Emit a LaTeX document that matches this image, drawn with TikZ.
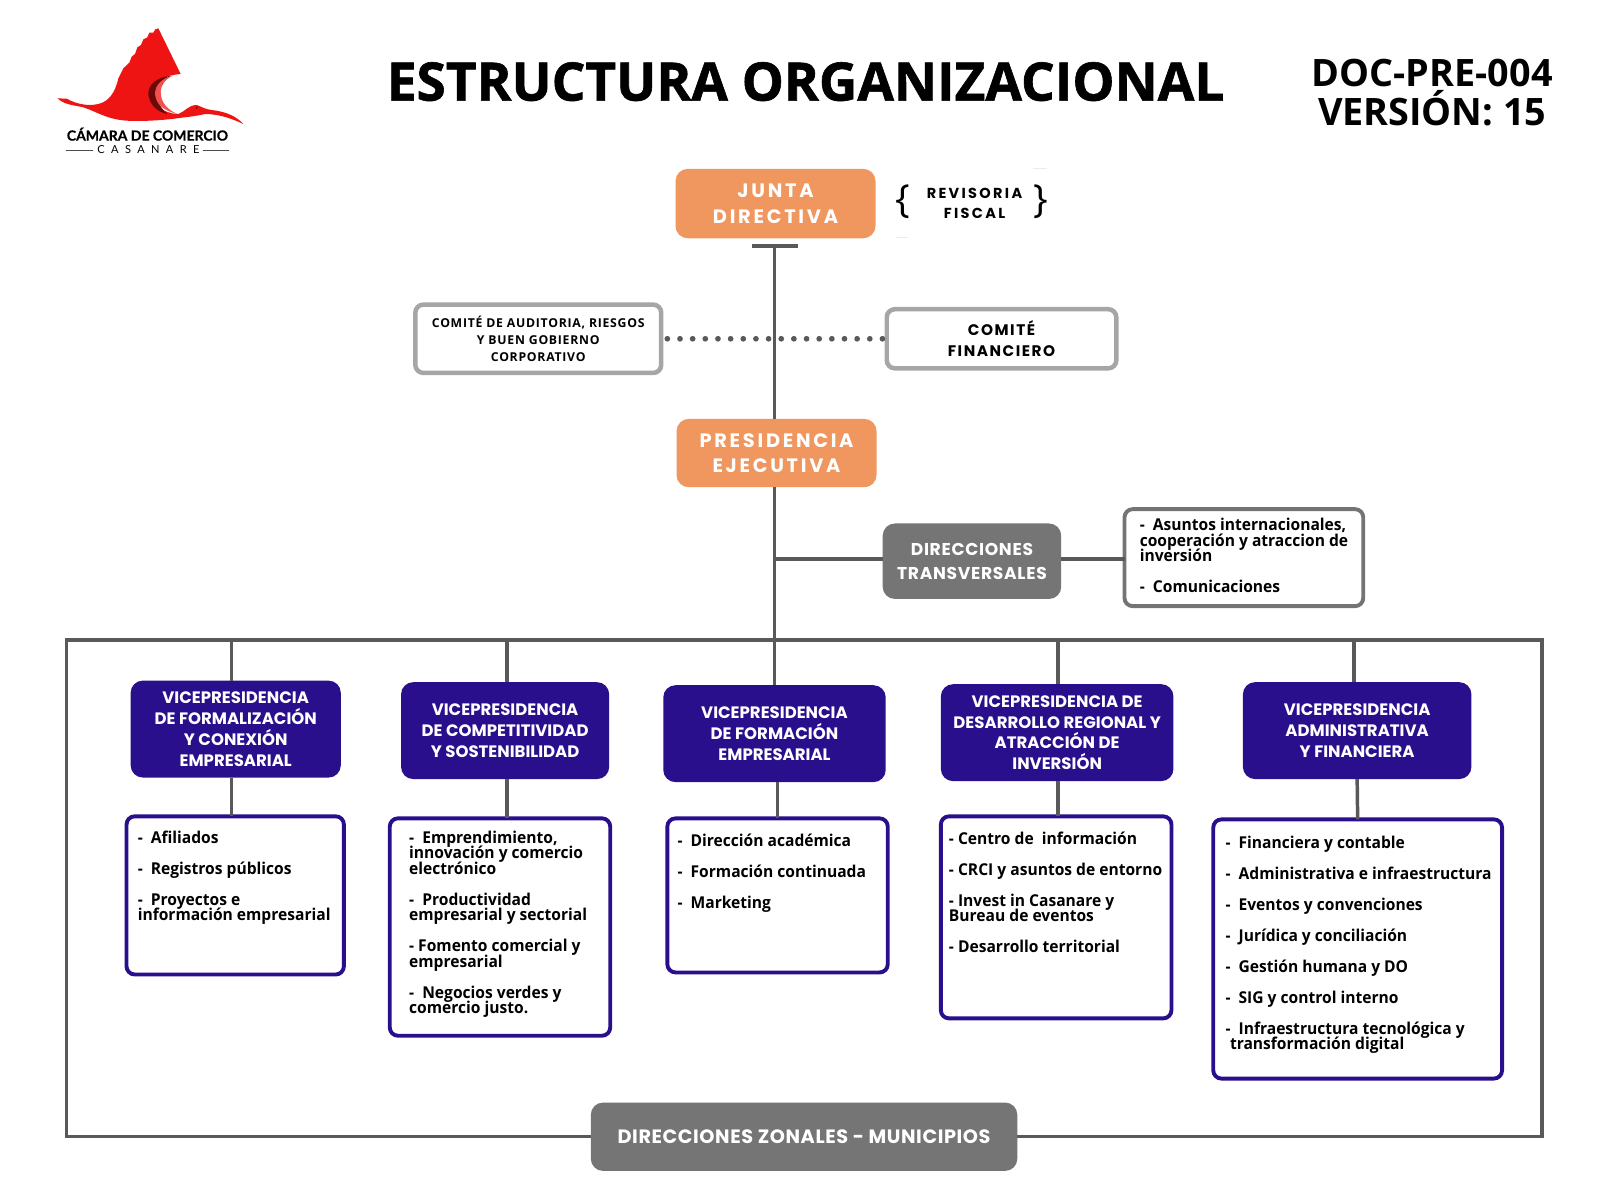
\documentclass[tikz,border=0pt]{standalone}
\usepackage{fontspec}
\setmainfont{Open Sans}
\newfontfamily\popfont{Poppins}
\newfontfamily\latofont{Lato}
\definecolor{naranja}{HTML}{F0965F}
\definecolor{morado}{HTML}{290F8C}
\definecolor{grisbox}{HTML}{757575}
\definecolor{gristrazo}{HTML}{595959}
\definecolor{grisclaro}{HTML}{A6A6A6}
\definecolor{rojo}{HTML}{EE1414}
\lineskiplimit=-100pt
\normallineskiplimit=-100pt

\begin{document}
\begin{tikzpicture}[x=0.5pt,y=-0.5pt]
	\tikzstyle{every node}+=[inner sep=0pt,outer sep=0pt,align=center]
	\tikzstyle{wh}=[minimum width=#1*0.5pt]
	\tikzstyle{ht}=[minimum height=#1*0.5pt]
	\tikzstyle{linea}=[draw=gristrazo,line width=1.7pt]
	\tikzstyle{naranjabox}=[fill=naranja,rounded corners=6pt,text=white,font=\popfont\bfseries\fontsize{9.5}{12.5}\selectfont\addfontfeature{LetterSpace=14}]
	\tikzstyle{grisbase}=[fill=grisbox,rounded corners=6pt,text=white,font=\popfont\bfseries\fontsize{8.4}{11.5}\selectfont\addfontfeature{LetterSpace=4}]
	\tikzstyle{comitebox}=[draw=grisclaro,line width=2.2pt,fill=white,rounded corners=4pt,text=black]
	\tikzstyle{vicebox}=[fill=morado,rounded corners=6pt,text=white,font=\popfont\bfseries\fontsize{8.1}{10.25}\selectfont]
	\tikzstyle{listabox}=[draw=morado,line width=1.9pt,fill=white,rounded corners=4pt]
	\tikzstyle{listagris}=[draw=grisclaro!70!black,line width=1.9pt,fill=white,rounded corners=4pt]
	\tikzstyle{listatxt}=[anchor=north west,align=left,text=black,font=\bfseries\fontsize{8}{7.6}\selectfont\addfontfeature{FakeStretch=0.955}]
	\useasboundingbox (0,0) rectangle (1568,1176);

	% logo
	\begin{scope}[shift={(39.2,9.8)},scale=0.3267]
		\fill [rojo] (52,265) -- (80,266) .. controls (105,280) and (140,290) .. (175,282) .. controls (205,275) and (225,250) .. (235,205) -- (250,175) -- (268,158) -- (275,140) -- (285,132) -- (292,112) -- (303,105) -- (310,88) -- (322,82) -- (328,68) -- (340,68) -- (346,58) -- (355,55) -- (422,192) .. controls (385,195) and (350,205) .. (335,235) .. controls (320,275) and (370,312) .. (415,312) .. controls (435,305) and (445,285) .. (470,285) .. controls (485,290) and (495,298) .. (515,300) .. controls (560,305) and (590,320) .. (610,342) .. controls (580,328) and (540,312) .. (495,312) .. controls (470,318) and (450,320) .. (425,323) .. controls (380,330) and (310,335) .. (260,332) .. controls (200,328) and (170,305) .. (130,292) .. controls (100,285) and (75,285) .. (52,265) -- cycle;
		\fill [rojo!45!black] (398,197) .. controls (350,200) and (322,225) .. (325,255) .. controls (330,285) and (350,305) .. (382,312) .. controls (355,290) and (335,245) .. (362,218) .. controls (372,206) and (385,200) .. (398,197) -- cycle;
		\fill [rojo!75!white] (400,197) .. controls (365,205) and (345,225) .. (345,252) .. controls (348,280) and (365,300) .. (412,312) .. controls (385,300) and (362,280) .. (362,245) .. controls (362,225) and (378,205) .. (400,197) -- cycle;
		\fill [black] (470,293) circle (2.5);
	\end{scope}
	\node (camara) at (144.5,131.5) {\latofont\bfseries\fontsize{6.85}{8}\selectfont\addfontfeature{FakeBold=0.5}CÁMARA DE COMERCIO};
	\node (casanare) at (145.5,147) {\latofont\fontsize{5.4}{6}\selectfont\addfontfeature{LetterSpace=58}CASANARE};
	\coordinate (casaizq) at (65,147);
	\coordinate (casader) at (224,147);
	\draw [black!70,line width=0.35pt] (casaizq) -- (91,147);
	\draw [black!70,line width=0.35pt] (199,147) -- (casader);

	% titulos
	\node (titulo) [font=\bfseries\fontsize{26}{30}\selectfont\addfontfeature{FakeBold=1.2}] at (789.5,80) {ESTRUCTURA ORGANIZACIONAL};
	\node (documento) [font=\bfseries\fontsize{18.5}{19.2}\selectfont] at (1403.5,90.5) {DOC-PRE-004\\VERSIÓN: 15};

	% junta y presidencia
	\node (junta) [naranjabox,wh=196,ht=68] at (760,199.5) {JUNTA\\DIRECTIVA};
	\node (revisoria) [font=\popfont\bfseries\fontsize{7.1}{10}\selectfont\addfontfeature{LetterSpace=16}] at (955,199.5) {REVISORIA\\FISCAL};
	\node (llaveizq) [font=\fontsize{19}{20}\selectfont] at (885,198) {\{};
	\node (llaveder) [font=\fontsize{19}{20}\selectfont] at (1020,198) {\}};
	\draw [black!8,line width=0.4pt] (1012,165) -- (1026,165);
	\draw [black!8,line width=0.4pt] (878,233) -- (890,233);
	\node (presidencia) [naranjabox,wh=196,ht=67] at (761,444) {PRESIDENCIA\\EJECUTIVA};
	\coordinate (tope) at (759,241);
	\coordinate (topeizq) at (737,241);
	\coordinate (topeder) at (782,241);
	\draw [linea] (topeizq) -- (topeder);
	\draw [linea] (tope) -- (presidencia.north -| tope);

	% comites
	\node (auditoria) [comitebox,wh=241,ht=67,font=\bfseries\fontsize{6}{8.4}\selectfont\addfontfeature{LetterSpace=6}] at (527.5,332) {COMITÉ DE AUDITORIA, RIESGOS\\Y BUEN GOBIERNO\\CORPORATIVO};
	\node (financiero) [comitebox,wh=225,ht=58,font=\popfont\bfseries\fontsize{7.5}{10}\selectfont\addfontfeature{LetterSpace=10}] at (981.5,332) {COMITÉ\\FINANCIERO};
	\draw [gristrazo,line width=2.8pt,line cap=round,dash pattern=on 0pt off 6.2pt,shorten <=3pt,shorten >=2pt] (auditoria.east) -- (financiero.west);

	% transversales
	\node (transversales) [grisbase,wh=175,ht=74] at (952.5,550) {DIRECCIONES\\TRANSVERSALES};
	\node (asuntos) [listagris,wh=234,ht=95] at (1219,546.5) {};
	\node (asuntostxt) [listatxt] at (1117,508) {-~~Asuntos internacionales,\\cooperación y atraccion de\\inversión\\[7.6pt]-~~Comunicaciones};
	\draw [linea] ([yshift=-0.75pt]transversales.east |- asuntos.west) -- ([yshift=-0.75pt]asuntos.west);
	\draw [linea] ([yshift=-0.75pt]transversales.west |- asuntos.west) -- ([yshift=-0.75pt]asuntos.west -| tope);

	% marco
	\node (marco) [linea,wh=1446,ht=487] at (788,870.5) {};
	\node (zonales) [grisbase,wh=418,ht=67,font=\popfont\bfseries\fontsize{9.45}{11}\selectfont\addfontfeature{LetterSpace=3}] at (788,1114) {DIRECCIONES ZONALES - MUNICIPIOS};

	% vicepresidencias
	\node (vform) [vicebox,wh=206,ht=95] at (231,714.5) {VICEPRESIDENCIA\\DE FORMALIZACIÓN\\Y CONEXIÓN\\EMPRESARIAL};
	\node (vcomp) [vicebox,wh=204,ht=95] at (495,716) {VICEPRESIDENCIA\\DE COMPETITIVIDAD\\Y SOSTENIBILIDAD};
	\node (vfor) [vicebox,wh=218,ht=95] at (759,719) {VICEPRESIDENCIA\\DE FORMACIÓN\\EMPRESARIAL};
	\node (vdes) [vicebox,wh=228,ht=95] at (1036,718) {VICEPRESIDENCIA DE\\DESARROLLO REGIONAL Y\\ATRACCIÓN DE\\INVERSIÓN};
	\node (vadm) [vicebox,wh=224,ht=95] at (1330,716) {VICEPRESIDENCIA\\ADMINISTRATIVA\\Y FINANCIERA};

	% listas
	\node (lform) [listabox,wh=213,ht=155] at (230.5,877.5) {};
	\node (lcomp) [listabox,wh=216,ht=213] at (490,908.5) {};
	\node (lfor) [listabox,wh=216,ht=151] at (762,877.5) {};
	\node (ldes) [listabox,wh=226,ht=198] at (1035,899) {};
	\node (ladm) [listabox,wh=283,ht=254] at (1330.5,930) {};

	\node (lformtxt) [listatxt] at (135,814) {-~~Afiliados\\[7.6pt]-~~Registros públicos\\[7.6pt]-~~Proyectos e\\información empresarial};
	\node (lcomptxt) [listatxt] at (401,814) {-~~Emprendimiento,\\innovación y comercio\\electrónico\\[7.6pt]-~~Productividad\\empresarial y sectorial\\[7.6pt]- Fomento comercial y\\empresarial\\[7.6pt]-~~Negocios verdes y\\comercio justo.};
	\node (lfortxt) [listatxt] at (664,817) {-~~Dirección académica\\[7.6pt]-~~Formación continuada\\[7.6pt]-~~Marketing};
	\node (ldestxt) [listatxt] at (930,815) {- Centro de~~información\\[7.6pt]- CRCI y asuntos de entorno\\[7.6pt]- Invest in Casanare y\\Bureau de eventos\\[7.6pt]- Desarrollo territorial};
	\node (ladmtxt) [listatxt] at (1201,819) {-~~Financiera y contable\\[7.6pt]-~~Administrativa e infraestructura\\[7.6pt]-~~Eventos y convenciones\\[7.6pt]-~~Jurídica y conciliación\\[7.6pt]-~~Gestión humana y DO\\[7.6pt]-~~SIG y control interno\\[7.6pt]-~~Infraestructura tecnológica y\\\hspace{2.2pt}transformación digital};

	% conexiones
	\draw [linea] (presidencia.south -| tope) -- (vfor.north -| tope);
	\draw [linea] ([xshift=-2pt]vform.north) -- ([xshift=-2pt]vform.north |- marco.north);
	\draw [linea] ([xshift=1pt]vcomp.north) -- ([xshift=1pt]vcomp.north |- marco.north);
	\draw [linea] ([xshift=0.5pt]vdes.north) -- ([xshift=0.5pt]vdes.north |- marco.north);
	\draw [linea] ([xshift=-1.5pt]vadm.north) -- ([xshift=-1.5pt]vadm.north |- marco.north);
	\draw [linea] ([xshift=-2pt]vform.south) -- ([xshift=-2pt]vform.south |- lform.north);
	\draw [linea] ([xshift=1pt]vcomp.south) -- ([xshift=1pt]vcomp.south |- lcomp.north);
	\draw [linea] ([xshift=1.5pt]vfor.south) -- ([xshift=1.5pt]vfor.south |- lfor.north);
	\draw [linea] ([xshift=0.5pt]vdes.south) -- ([xshift=0.5pt]vdes.south |- ldes.north);
	\draw [linea] (vadm.south) -- (ladm.north);
\end{tikzpicture}
\end{document}
